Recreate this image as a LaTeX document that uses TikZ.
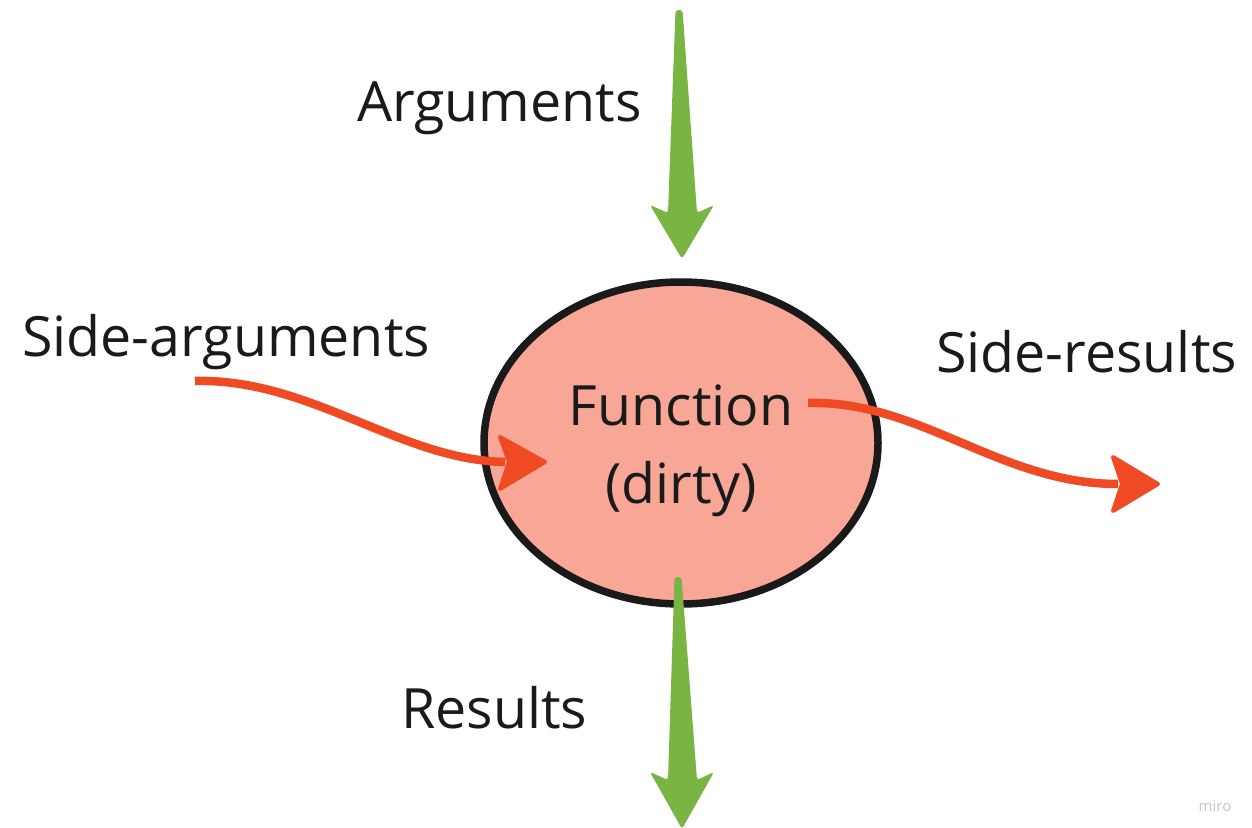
\documentclass[tikz,border=0pt]{standalone}
\usepackage{fontspec}
\setmainfont{Open Sans}
\usetikzlibrary{shapes.geometric,calc}
\definecolor{inkc}{HTML}{1A1A1A}
\definecolor{leafc}{HTML}{78B542}
\definecolor{flamec}{HTML}{EF4A23}
\definecolor{salmonc}{HTML}{F8A797}
\definecolor{markc}{HTML}{C4C6CB}
\begin{document}
\begin{tikzpicture}[x=1pt,y=-1pt,
  label/.style={font=\fontsize{55.5}{66}\selectfont, text=inkc, inner sep=0pt},
  core/.style={ellipse, draw=inkc, line width=7.5pt, fill=salmonc,
    minimum width=394pt, minimum height=322pt, inner sep=0pt},
  bigarrow/.style={fill=leafc, rounded corners=3pt},
  wave/.style={draw=flamec, line width=8.5pt},
  wavehead/.style={fill=flamec, draw=flamec, line width=4pt, line join=round}]
\useasboundingbox (0,0) rectangle (1252,827);
\fill[white] (0,0) rectangle (1252,827);

% central function bubble
\node[core] (fn) at (681,443) {};
\node[label, anchor=base] (fname) at (681,425) {Function};
\node[label, anchor=base] (fkind) at (681,503) {(dirty)};

% labels
\node[label, anchor=base west] (args) at (357,121) {Arguments};
\node[label, anchor=base west] (sargs) at (22,356) {Side-arguments};
\node[label, anchor=base west] (sres) at (936,372) {Side-results};
\node[label, anchor=base west] (res) at (401,728) {Results};
\node[font=\fontsize{15}{17}\selectfont, text=markc, anchor=base] (brand) at (1215,811) {miro};

% end points of the side flows
\coordinate (sa0) at (195,381);
\coordinate (sa1) at (505,462);
\coordinate (sr1) at (1118,484);
\coordinate (sr0) at (808,403);

% green arrow: arguments in
\coordinate (a0) at (679,10);
\coordinate (a1) at (682,259);
\fill[bigarrow] ($(a0)+(-3.5,0)$) -- (668,213) -- (650,205) -- (a1)
  -- (714,205) -- (697,213) -- ($(a0)+(3.5,0)$) -- cycle;

% green arrow: results out
\coordinate (r0) at (678,577);
\coordinate (r1) at (682,829);
\fill[bigarrow] ($(r0)+(-3.5,0)$) -- (668,780) -- (650,772) -- (r1)
  -- (714,772) -- (697,780) -- ($(r0)+(3.5,0)$) -- cycle;

% red side-argument flow
\draw[wave] (sa0) .. controls (310,378) and (400,460) .. (sa1);
\filldraw[wavehead] (500,437) -- (545,462) -- (500,489) -- (509,462) -- cycle;

% red side-result flow
\draw[wave] (sr0) .. controls (920,400) and (1000,484) .. (sr1);
\filldraw[wavehead] (1113,457) -- (1158,484) -- (1113,511) -- (1122,484) -- cycle;
\end{tikzpicture}
\end{document}
